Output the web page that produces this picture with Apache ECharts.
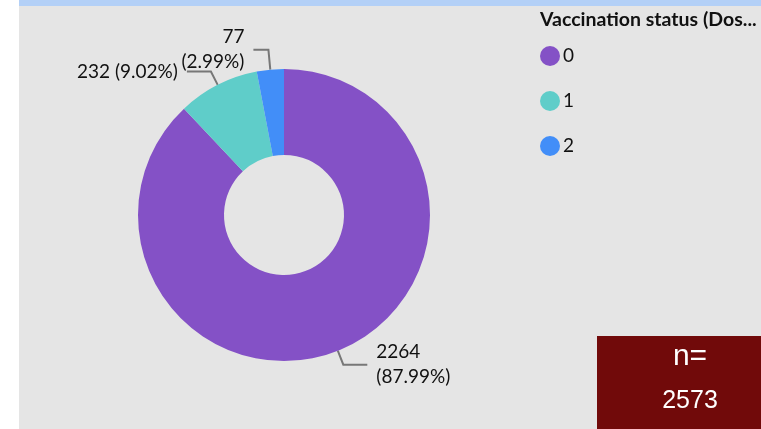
<!DOCTYPE html>
<html>
<head>
<meta charset="utf-8">
<script src="https://cdn.jsdelivr.net/npm/echarts@6/dist/echarts.min.js"></script>
<style>
  html, body { margin: 0; padding: 0; background: #ffffff; }
  #chart { width: 761px; height: 429px; }
</style>
</head>
<body>
<div id="chart"></div>
<script>
var categories = ['0', '1', '2'];
var counts = [2264, 232, 77];
var sliceColors = ['#8451c6', '#5fcdc9', '#428ef8'];
var legendTitle = 'Vaccination status (Dos...';
var totalN = 2573;

var chart = echarts.init(document.getElementById('chart'));

var pieData = categories.map(function (c, i) {
    var item = { name: c, value: counts[i], itemStyle: { color: sliceColors[i] } };
    if (i === 1) {
        item.label = { formatter: '{c} ({d}%)' };
    }
    if (i === 2) {
        item.labelLine = { length: 20, length2: 15 };
    }
    return item;
});

var option = {
    backgroundColor: '#ffffff',
    animation: false,
    graphic: [
        { type: 'rect', z: -10, shape: { x: 19, y: 0, width: 742, height: 429 }, style: { fill: '#e5e5e5' } },
        { type: 'rect', z: -9, shape: { x: 19, y: 0, width: 742, height: 6 }, style: { fill: '#b3d0f7' } },
        { type: 'rect', z: 5, shape: { x: 597, y: 336, width: 164, height: 93 }, style: { fill: '#710a0a' } },
        { type: 'text', z: 6, x: 690, y: 357, style: { text: 'n=', fill: '#ffffff', font: '30px "Liberation Sans", Arial, sans-serif', align: 'center', verticalAlign: 'middle' } },
        { type: 'text', z: 6, x: 690, y: 401, style: { text: String(totalN), fill: '#ffffff', font: '25px "Liberation Sans", Arial, sans-serif', align: 'center', verticalAlign: 'middle' } }
    ],
    title: {
        text: legendTitle,
        left: 540,
        top: 10,
        padding: 0,
        textStyle: { fontFamily: 'Lato', fontWeight: 'bold', fontSize: 19.5, color: '#111111' }
    },
    legend: {
        orient: 'vertical',
        left: 540,
        top: 46,
        padding: 0,
        icon: 'circle',
        itemWidth: 20,
        itemHeight: 20,
        itemGap: 25,
        textStyle: { fontFamily: 'Lato', fontSize: 19, color: '#111111', padding: [0, 0, 0, -2] },
        data: categories
    },
    series: [
        {
            type: 'pie',
            center: [284, 215],
            radius: [60, 146],
            startAngle: 90,
            clockwise: true,
            avoidLabelOverlap: false,
            labelLayout: { hideOverlap: false },
            label: {
                show: true,
                position: 'outside',
                formatter: '{c}\n({d}%)',
                fontFamily: 'Lato',
                fontSize: 19,
                lineHeight: 25,
                color: '#111111',
                distanceToLabelLine: 9
            },
            labelLine: {
                show: true,
                length: 15,
                length2: 24,
                lineStyle: { color: '#777777', width: 2 }
            },
            emphasis: { disabled: true },
            data: pieData
        }
    ]
};

chart.setOption(option);
</script>
</body>
</html>
